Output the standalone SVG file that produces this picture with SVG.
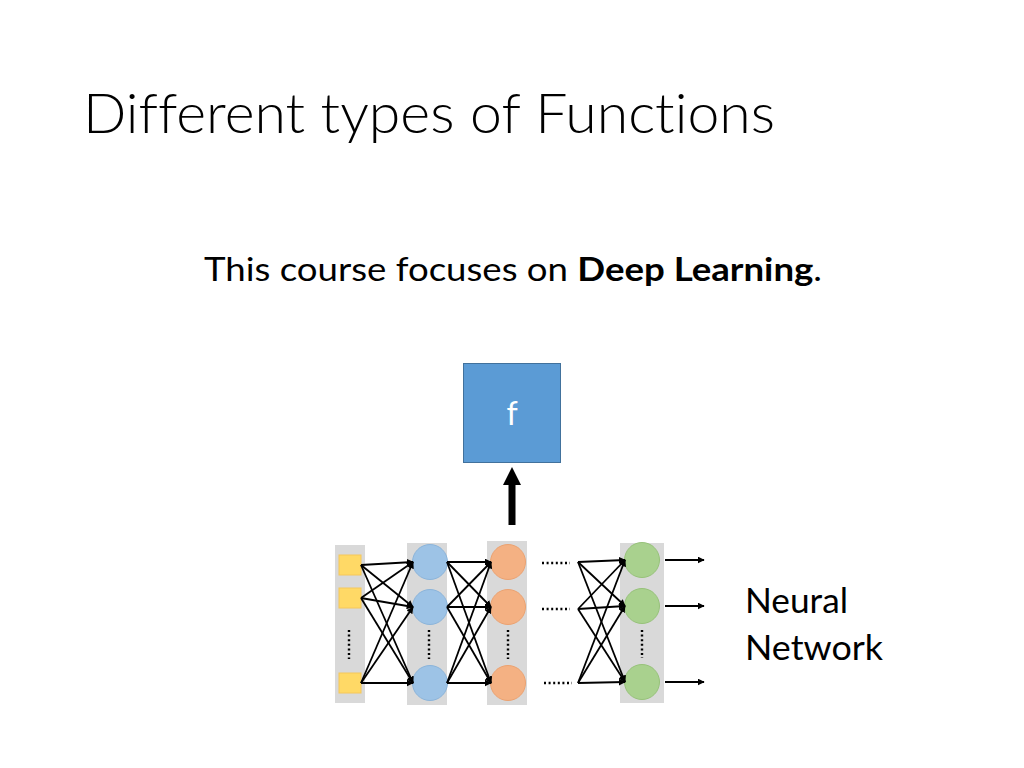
<svg xmlns="http://www.w3.org/2000/svg" width="1024" height="768" viewBox="0 0 1024 768">
<defs>
<style>
.t{font-family:Lato,"Open Sans","Liberation Sans",sans-serif;fill:#000;font-variant-ligatures:none;font-feature-settings:"liga" 0,"dlig" 0}
.bar{fill:#D9D9D9}
.sq{fill:#FFD966;stroke:#F6C75A;stroke-width:1}
.bl{fill:#9DC3E6;stroke:#8BB4DA;stroke-width:1}
.or{fill:#F4B183;stroke:#EBA271;stroke-width:1}
.gr{fill:#A9D18E;stroke:#97C27A;stroke-width:1}
.ln{stroke:#000;stroke-width:1.8;fill:none;marker-end:url(#ah)}
.dt{stroke:#000;stroke-width:2.4;stroke-dasharray:2 2.6;fill:none}
</style>
<marker id="ah" viewBox="0 0 10 10" refX="9" refY="5" markerWidth="7" markerHeight="7" markerUnits="userSpaceOnUse" orient="auto"><path d="M0,0L10,5L0,10z" fill="#000"/></marker>
</defs>
<rect width="1024" height="768" fill="#fff"/>
<text class="t" x="83" y="133" font-size="56" font-weight="300" textLength="692" lengthAdjust="spacingAndGlyphs">Different types of Functions</text>
<text class="t" x="204" y="281" font-size="32" textLength="618" lengthAdjust="spacingAndGlyphs">This course focuses on <tspan font-weight="bold">Deep Learning</tspan>.</text>
<g id="f-box">
<rect x="463.5" y="363.5" width="97" height="99" fill="#5B9BD5" stroke="#41719C" stroke-width="1"/>
<text x="512" y="425" font-family="Lato,'Open Sans','Liberation Sans',sans-serif" font-size="32" fill="#fff" text-anchor="middle">f</text>
</g>
<g id="up-arrow">
<rect x="508.5" y="484" width="7" height="41" fill="#000"/>
<path d="M503,485L512,467L521,485z" fill="#000"/>
</g>
<g id="input-layer">
<rect class="bar" x="335" y="545" width="30" height="158"/>
<rect class="sq" x="339" y="555" width="22" height="20"/>
<rect class="sq" x="339" y="588" width="22" height="20"/>
<rect class="sq" x="339" y="673" width="22" height="20"/>
<line class="dt" x1="349" y1="630" x2="349" y2="659"/>
</g>
<g id="hidden1">
<rect class="bar" x="407" y="543" width="40" height="162"/>
<circle class="bl" cx="430" cy="562" r="17.5"/>
<circle class="bl" cx="430" cy="607" r="17.5"/>
<circle class="bl" cx="430" cy="683" r="17.5"/>
<line class="dt" x1="429" y1="630" x2="429" y2="659"/>
</g>
<g id="hidden2">
<rect class="bar" x="487" y="541" width="40" height="164"/>
<circle class="or" cx="508" cy="562" r="17.5"/>
<circle class="or" cx="508" cy="607" r="17.5"/>
<circle class="or" cx="508" cy="683" r="17.5"/>
<line class="dt" x1="508" y1="630" x2="508" y2="659"/>
</g>
<g id="output-layer">
<rect class="bar" x="620" y="543" width="44" height="160"/>
<circle class="gr" cx="642" cy="560" r="17.5"/>
<circle class="gr" cx="642" cy="606" r="17.5"/>
<circle class="gr" cx="642" cy="682" r="17.5"/>
<line class="dt" x1="642" y1="630" x2="642" y2="658"/>
</g>
<g id="ellipses">
<line class="dt" x1="542" y1="563" x2="570" y2="563" stroke-width="2"/>
<line class="dt" x1="542" y1="609" x2="570" y2="609" stroke-width="2"/>
<line class="dt" x1="544" y1="683" x2="572" y2="683" stroke-width="2"/>
</g>
<g id="neural-network-label">
<text class="t" x="745" y="613" font-size="35" textLength="103" lengthAdjust="spacingAndGlyphs">Neural</text>
<text class="t" x="745" y="660" font-size="35" textLength="138" lengthAdjust="spacingAndGlyphs">Network</text>
</g>
<g id="connectors">
<line class="ln" x1="361" y1="565" x2="413" y2="562"/>
<line class="ln" x1="361" y1="565" x2="413" y2="607"/>
<line class="ln" x1="361" y1="565" x2="413" y2="683"/>
<line class="ln" x1="361" y1="598" x2="413" y2="562"/>
<line class="ln" x1="361" y1="598" x2="413" y2="607"/>
<line class="ln" x1="361" y1="598" x2="413" y2="683"/>
<line class="ln" x1="361" y1="683" x2="413" y2="562"/>
<line class="ln" x1="361" y1="683" x2="413" y2="607"/>
<line class="ln" x1="361" y1="683" x2="413" y2="683"/>
<line class="ln" x1="447" y1="562" x2="491" y2="562"/>
<line class="ln" x1="447" y1="562" x2="491" y2="607"/>
<line class="ln" x1="447" y1="562" x2="491" y2="683"/>
<line class="ln" x1="447" y1="607" x2="491" y2="562"/>
<line class="ln" x1="447" y1="607" x2="491" y2="607"/>
<line class="ln" x1="447" y1="607" x2="491" y2="683"/>
<line class="ln" x1="447" y1="683" x2="491" y2="562"/>
<line class="ln" x1="447" y1="683" x2="491" y2="607"/>
<line class="ln" x1="447" y1="683" x2="491" y2="683"/>
<line class="ln" x1="578" y1="562" x2="625" y2="560"/>
<line class="ln" x1="578" y1="562" x2="625" y2="606"/>
<line class="ln" x1="578" y1="562" x2="625" y2="682"/>
<line class="ln" x1="578" y1="609" x2="625" y2="560"/>
<line class="ln" x1="578" y1="609" x2="625" y2="606"/>
<line class="ln" x1="578" y1="609" x2="625" y2="682"/>
<line class="ln" x1="578" y1="683" x2="625" y2="560"/>
<line class="ln" x1="578" y1="683" x2="625" y2="606"/>
<line class="ln" x1="578" y1="683" x2="625" y2="682"/>
<line class="ln" x1="665" y1="560" x2="704" y2="560" stroke-width="1.3"/>
<line class="ln" x1="665" y1="606" x2="704" y2="606" stroke-width="1.3"/>
<line class="ln" x1="665" y1="682" x2="704" y2="682" stroke-width="1.3"/>
</g>
</svg>
